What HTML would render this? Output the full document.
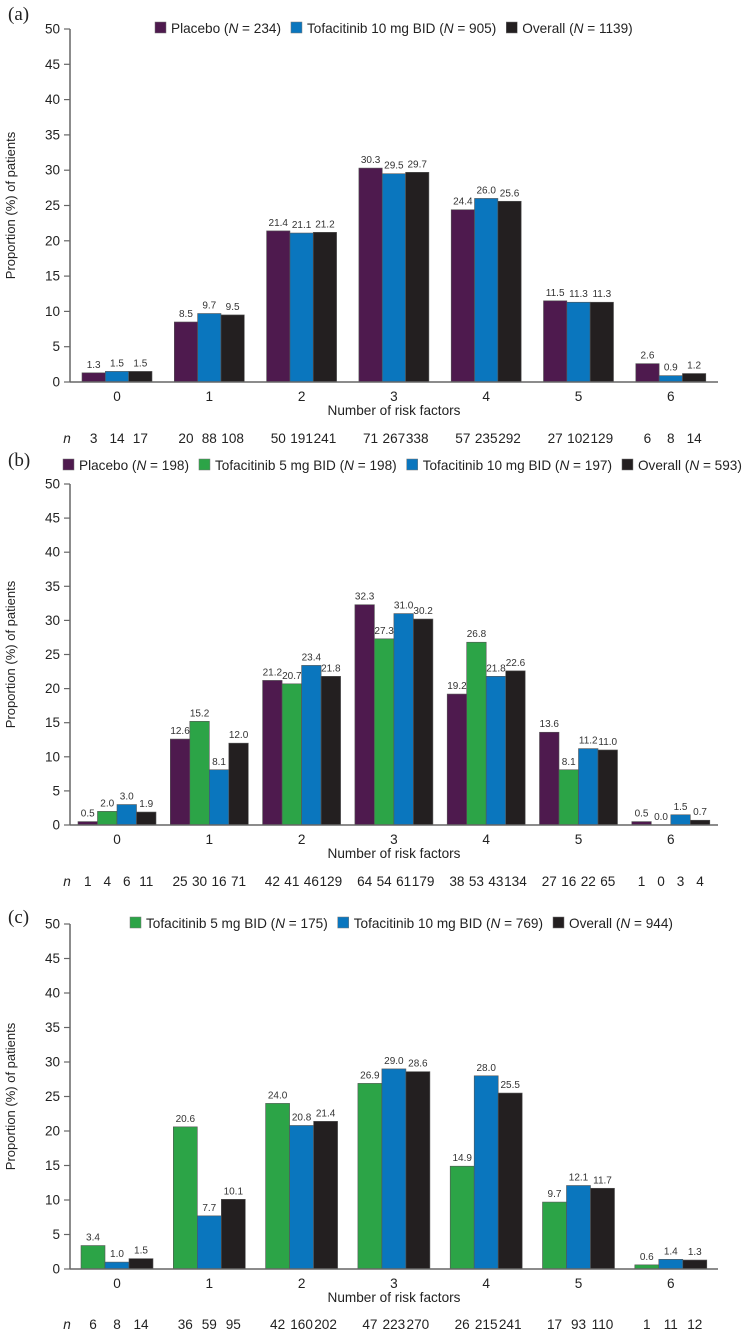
<!DOCTYPE html>
<html><head><meta charset="utf-8">
<style>
html,body{margin:0;padding:0;background:#fff;}
svg{display:block;font-family:"Liberation Sans",Arial,sans-serif;}
</style></head>
<body>
<svg id="chart" width="751" height="1332" viewBox="0 0 751 1332"></svg>
<script>
const categories = ["0","1","2","3","4","5","6"];
// Panel a
const aNames = ["Placebo (|N| = 234)","Tofacitinib 10 mg BID (|N| = 905)","Overall (|N| = 1139)"];
const aPlacebo = [1.3,8.5,21.4,30.3,24.4,11.5,2.6];
const aTofa10 = [1.5,9.7,21.1,29.5,26.0,11.3,0.9];
const aOverall = [1.5,9.5,21.2,29.7,25.6,11.3,1.2];
const aNPlacebo = [3,20,50,71,57,27,6];
const aNTofa10 = [14,88,191,267,235,102,8];
const aNOverall = [17,108,241,338,292,129,14];
// Panel b
const bNames = ["Placebo (|N| = 198)","Tofacitinib 5 mg BID (|N| = 198)","Tofacitinib 10 mg BID (|N| = 197)","Overall (|N| = 593)"];
const bPlacebo = [0.5,12.6,21.2,32.3,19.2,13.6,0.5];
const bTofa5 = [2.0,15.2,20.7,27.3,26.8,8.1,0.0];
const bTofa10 = [3.0,8.1,23.4,31.0,21.8,11.2,1.5];
const bOverall = [1.9,12.0,21.8,30.2,22.6,11.0,0.7];
const bNPlacebo = [1,25,42,64,38,27,1];
const bNTofa5 = [4,30,41,54,53,16,0];
const bNTofa10 = [6,16,46,61,43,22,3];
const bNOverall = [11,71,129,179,134,65,4];
// Panel c
const cNames = ["Tofacitinib 5 mg BID (|N| = 175)","Tofacitinib 10 mg BID (|N| = 769)","Overall (|N| = 944)"];
const cTofa5 = [3.4,20.6,24.0,26.9,14.9,9.7,0.6];
const cTofa10 = [1.0,7.7,20.8,29.0,28.0,12.1,1.4];
const cOverall = [1.5,10.1,21.4,28.6,25.5,11.7,1.3];
const cNTofa5 = [6,36,42,47,26,17,1];
const cNTofa10 = [8,59,160,223,215,93,11];
const cNOverall = [14,95,202,270,241,110,12];
const yTicks = [0,5,10,15,20,25,30,35,40,45,50];

const PURPLE="#4e1a4e", GREEN="#2ca447", BLUE="#0a76be", BLACK="#231f20";
const NS="http://www.w3.org/2000/svg";
const svg=document.getElementById('chart');
function el(tag,attrs,parent){const e=document.createElementNS(NS,tag);for(const k in attrs)e.setAttribute(k,attrs[k]);(parent||svg).appendChild(e);return e;}

function panel(cfg){
  const g=el('g',{});
  
  
  const x0=70,xEnd=718,y0=cfg.y0,y50=cfg.y50;
  const yS=v=>y0-(y0-y50)*v/50;
  const xC=i=>117+92.3*i;
  const pl=el('text',{x:8,y:cfg.labelY,'font-family':'"Liberation Serif",serif','font-size':19,fill:'#222'},g);
  pl.textContent='('+cfg.id+')';
  
  
  let lx=cfg.legX;
  cfg.names.forEach((nm,k)=>{
    const lg=el('g',{},g);
    
    
    el('rect',{x:lx,y:cfg.legY-6,width:11,height:11,fill:cfg.colors[k],stroke:'#777','stroke-width':0.5},lg);
    const t=el('text',{x:lx+16,y:cfg.legY+5,'font-size':13.6,fill:'#222'},lg);
    const parts=nm.split('|');
    const s1=el('tspan',{},t);s1.textContent=parts[0];
    const s2=el('tspan',{'font-style':'italic'},t);s2.textContent=parts[1];
    const s3=el('tspan',{},t);s3.textContent=parts[2];
    lx+=16+t.getComputedTextLength()+10;
  });
  const ya=el('g',{},g);
  
  
  el('line',{x1:x0,y1:yS(50),x2:x0,y2:y0,stroke:'#666','stroke-width':1.5},ya);
  yTicks.forEach(v=>{
    el('line',{x1:x0-6,y1:yS(v),x2:x0,y2:yS(v),stroke:'#666','stroke-width':1.2},ya);
    const t=el('text',{x:x0-10,y:yS(v)+4.5,'font-size':13.5,'text-anchor':'end',fill:'#222'},ya);
    t.textContent=v;
  });
  const yt=el('text',{x:0,y:0,'font-size':13,'text-anchor':'middle',fill:'#222',transform:`translate(15,${(y0+y50)/2}) rotate(-90)`},g);
  yt.textContent='Proportion (%) of patients';
  
  
  const nS=cfg.series.length, bw=cfg.groupW/nS;
  categories.forEach((c,i)=>{
    const left=xC(i)-cfg.groupW/2;
    cfg.series.forEach((s,k)=>{
      const v=s[i], bx=left+k*bw, by=yS(v);
      const r=el('rect',{x:bx,y:by,width:bw,height:Math.max(y0-by,0),fill:cfg.colors[k],stroke:'#555','stroke-width':0.6},g);
      
      
      const t=el('text',{x:bx+bw/2,y:by-5,'font-size':10,'text-anchor':'middle',fill:'#333'},g);
      t.textContent=v.toFixed(1);
      
      
      const n=el('text',{x:bx+bw/2,y:cfg.nY,'font-size':13.6,'text-anchor':'middle',fill:'#222'},g);
      n.textContent=cfg.ns[k][i];
      
      
    });
    const xt=el('text',{x:xC(i),y:y0+19,'font-size':13.6,'text-anchor':'middle',fill:'#222'},g);
    xt.textContent=c;
    
    
  });
  const xa=el('line',{x1:x0,y1:y0,x2:xEnd,y2:y0,stroke:'#666','stroke-width':1.5},g);
  
  
  const xtt=el('text',{x:394,y:y0+33,'font-size':13.6,'text-anchor':'middle',fill:'#222'},g);
  xtt.textContent='Number of risk factors';
  
  
  const nl=el('text',{x:67,y:cfg.nY,'font-size':13.6,'font-style':'italic','text-anchor':'middle',fill:'#222'},g);
  nl.textContent='n';
  
  
}

panel({id:'a',y0:382,y50:29,labelY:20,legX:155,legY:28,nY:443,groupW:70,
  names:aNames,colors:[PURPLE,BLUE,BLACK],series:[aPlacebo,aTofa10,aOverall],ns:[aNPlacebo,aNTofa10,aNOverall]});
panel({id:'b',y0:825,y50:484,labelY:466,legX:63,legY:465,nY:886,groupW:78,
  names:bNames,colors:[PURPLE,GREEN,BLUE,BLACK],series:[bPlacebo,bTofa5,bTofa10,bOverall],ns:[bNPlacebo,bNTofa5,bNTofa10,bNOverall]});
panel({id:'c',y0:1269,y50:924,labelY:923,legX:130,legY:923,nY:1329,groupW:72,
  names:cNames,colors:[GREEN,BLUE,BLACK],series:[cTofa5,cTofa10,cOverall],ns:[cNTofa5,cNTofa10,cNOverall]});
</script>
</body></html>
